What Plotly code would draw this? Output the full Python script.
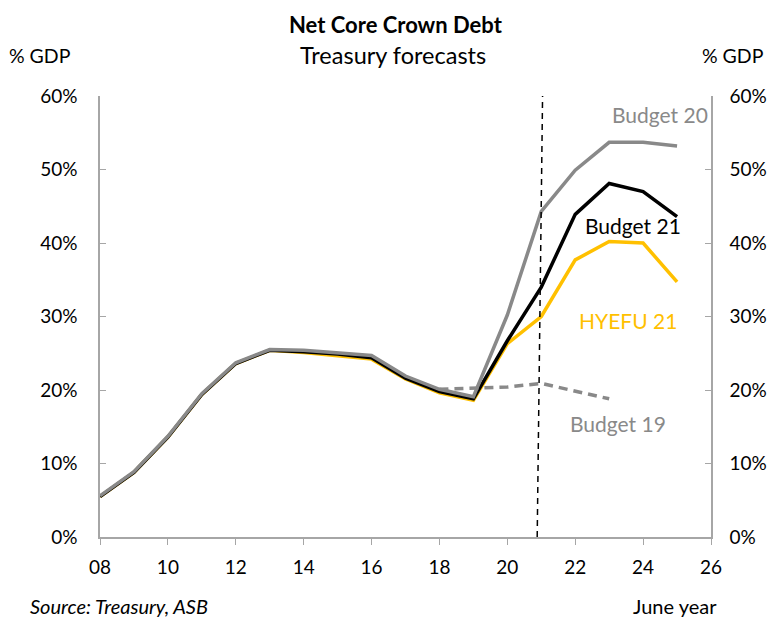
import plotly.graph_objects as go

years = list(range(8, 26))

budget20 = [5.6, 8.9, 13.7, 19.5, 23.7, 25.5, 25.4, 25.1, 24.7, 21.9, 20.1, 19.1,
            30.2, 44.3, 49.9, 53.7, 53.7, 53.2]
budget21 = [5.5, 8.8, 13.6, 19.4, 23.6, 25.4, 25.2, 24.9, 24.4, 21.6, 19.8, 18.8,
            26.7, 34.0, 43.9, 48.1, 47.0, 43.6]
hyefu21 = [5.5, 8.8, 13.6, 19.4, 23.6, 25.4, 25.1, 24.7, 24.2, 21.5, 19.6, 18.6,
           26.3, 30.0, 37.7, 40.2, 40.0, 34.7]
b19_years = [18, 19, 20, 21, 22, 23]
budget19 = [20.1, 20.2, 20.4, 20.9, 19.9, 18.8]

xtick_vals = list(range(8, 27, 2))
xtick_text = ["%02d" % v for v in xtick_vals]
ytick_vals = [0, 10, 20, 30, 40, 50, 60]
ytick_text = ["%d%%" % v for v in ytick_vals]

GRAY = "#898989"
GOLD = "#FFC000"
AXIS = "#a6a6a6"
FONT = "Lato"

W, H = 773, 620
ML, MR, MT, MB = 100, 62, 96, 83

fig = go.Figure()
fig.add_trace(go.Scatter(x=years, y=hyefu21, mode="lines", line=dict(color=GOLD, width=3.5), name="HYEFU 21"))
fig.add_trace(go.Scatter(x=years, y=budget21, mode="lines", line=dict(color="black", width=3.5), name="Budget 21"))
fig.add_trace(go.Scatter(x=years, y=budget20, mode="lines", line=dict(color=GRAY, width=3.5), name="Budget 20"))
fig.add_trace(go.Scatter(x=b19_years, y=budget19, mode="lines", line=dict(color=GRAY, width=3.5, dash="9px,6px"), name="Budget 19"))
fig.add_trace(go.Scatter(x=[8], y=[0], yaxis="y2", mode="lines", line=dict(width=0), showlegend=False, hoverinfo="skip"))

fig.add_shape(type="line", xref="x", yref="y", x0=20.88, x1=21.05, y0=0, y1=64.6,
              line=dict(color="black", width=1.5, dash="6px,5px"))

def ann(text, x, y, color, size=21):
    fig.add_annotation(text=text, x=x, y=y, xref="x", yref="y", showarrow=False,
                       font=dict(family=FONT, size=size, color=color))

ann("Budget 20", 24.5, 57.5, GRAY)
ann("Budget 21", 23.7, 42.4, "black")
ann("HYEFU 21", 23.56, 29.5, GOLD)
ann("Budget 19", 23.26, 15.4, GRAY)

def paper_text(text, px, py, size=19, xanchor="center"):
    x = (px - ML) / (W - ML - MR)
    y = (H - MB - py) / (H - MT - MB)
    fig.add_annotation(text=text, x=x, y=y, xref="paper", yref="paper", showarrow=False,
                       xanchor=xanchor, yanchor="middle",
                       font=dict(family=FONT, size=size, color="black"))

paper_text("<b>Net Core Crown Debt</b>", 396, 25, size=22)
paper_text("Treasury forecasts", 393, 55, size=23.5)
paper_text("% GDP", 40, 55, size=19.5)
paper_text("% GDP", 733, 55, size=19.5)
paper_text("<i>Source: Treasury, ASB</i>", 28, 606, size=20, xanchor="left")
paper_text("June year", 631, 606, size=20, xanchor="left")

axis_common = dict(showline=True, linecolor=AXIS, linewidth=1.5, tickcolor=AXIS, ticklen=6,
                   showgrid=False, zeroline=False, automargin=False,
                   tickfont=dict(family=FONT, size=19, color="black"))

fig.update_layout(
    width=W, height=H,
    margin=dict(l=ML, r=MR, t=MT, b=MB, autoexpand=False),
    paper_bgcolor="white", plot_bgcolor="white",
    showlegend=False,
    font=dict(family=FONT, size=19, color="black"),
    xaxis=dict(range=[8, 26], tickvals=xtick_vals, ticktext=xtick_text, ticks="outside",
               ticklabelstandoff=6, **axis_common),
    yaxis=dict(range=[0, 60], tickvals=ytick_vals, ticktext=ytick_text, ticks="inside",
               ticklabelstandoff=17, **axis_common),
    yaxis2=dict(range=[0, 60], tickvals=ytick_vals, ticktext=ytick_text, ticks="inside",
                overlaying="y", side="right", ticklabelstandoff=13, **axis_common),
)

fig.write_html("out.html", config={"displayModeBar": False},
               post_script="document.body.style.margin='0';document.body.style.overflow='hidden';")
